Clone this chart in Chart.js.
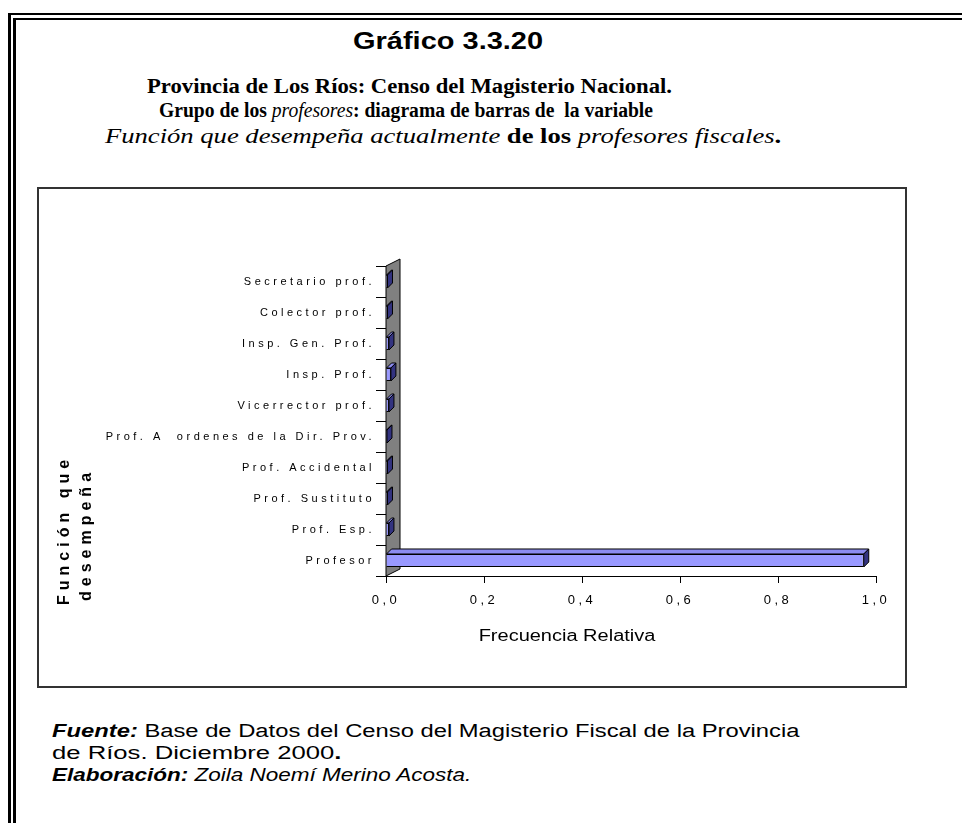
<!DOCTYPE html>
<html>
<head>
<meta charset="utf-8">
<script src="https://cdn.jsdelivr.net/npm/chart.js@4/dist/chart.umd.min.js"></script>
<style>
  html, body { margin:0; padding:0; background:#fff; width:962px; height:823px; overflow:hidden; }
  .frame1 { position:absolute; left:8px; top:13px; width:1200px; height:1200px; border-left:3px solid #000; border-top:2px solid #000; }
  .frame2 { position:absolute; left:13px; top:18px; width:1200px; height:1200px; border-left:3px solid #000; border-top:2px solid #000; }
  .t { position:absolute; white-space:pre; color:#000; line-height:1; transform-origin:0 0; }
  .ar { font-family:"Liberation Sans", Arial, sans-serif; }
  .tm { font-family:"Liberation Serif", "Times New Roman", serif; font-weight:bold; }
  .tm i { font-weight:normal; }
  .box { position:absolute; left:37px; top:187px; width:866px; height:497px; border:2px solid #333; background:#fff; }
  canvas { display:block; }
</style>
</head>
<body>
<div class="frame1"></div>
<div class="frame2"></div>

<div class="t ar" style="left:353px; top:30px; font-size:23px; font-weight:bold; transform:scaleX(1.26);">Gráfico 3.3.20</div>
<div class="t tm" style="left:147px; top:76px; font-size:20px; transform:scaleX(1.134);">Provincia de Los Ríos: Censo del Magisterio Nacional.</div>
<div class="t tm" style="left:159px; top:100px; font-size:20px; transform:scaleX(0.98);">Grupo de los <i>profesores</i>: diagrama de barras de  la variable</div>
<div class="t tm" style="left:105px; top:126px; font-size:20px; transform:scaleX(1.33);"><i>Función que desempeña actualmente</i> de los <i>profesores fiscales</i>.</div>

<div class="box"><canvas id="c" width="866" height="497"></canvas></div>

<div class="t ar" style="left:52px; top:722px; font-size:18px; transform:scaleX(1.32);"><b><i>Fuente:</i></b> Base de Datos del Censo del Magisterio Fiscal de la Provincia</div>
<div class="t ar" style="left:52px; top:744px; font-size:18px; transform:scaleX(1.425);">de Ríos. Diciembre 2000<b>.</b></div>
<div class="t ar" style="left:52px; top:766px; font-size:18px; transform:scaleX(1.25);"><b><i>Elaboración:</i></b><i> Zoila Noemí Merino Acosta.</i></div>

<script>
// ---- data ----
const categories = [
  'Secretario prof.',
  'Colector prof.',
  'Insp. Gen. Prof.',
  'Insp. Prof.',
  'Vicerrector prof.',
  'Prof. A  ordenes de la Dir. Prov.',
  'Prof. Accidental',
  'Prof. Sustituto',
  'Prof. Esp.',
  'Profesor'
];
const frecuenciaRelativa = [0.003, 0.003, 0.006, 0.010, 0.006, 0.002, 0.003, 0.003, 0.006, 0.975];
const xTickLabels = ['0,0', '0,2', '0,4', '0,6', '0,8', '1,0'];
const xTitle = 'Frecuencia Relativa';
const yTitle = ['Función que', 'desempeña'];

// ---- 3D look plugin ----
const threeD = {
  id: 'threeD',
  beforeDraw(chart) {
    chart.ctx.letterSpacing = '3.5px';
  },
  beforeDatasetsDraw(chart) {
    const { ctx, chartArea: a } = chart;
    const dx = 14, dy = -7;
    ctx.save();
    ctx.beginPath();
    ctx.moveTo(a.left, a.bottom);
    ctx.lineTo(a.left, a.top);
    ctx.lineTo(a.left + dx, a.top + dy);
    ctx.lineTo(a.left + dx, a.bottom + dy);
    ctx.closePath();
    ctx.fillStyle = '#808080';
    ctx.fill();
    ctx.lineWidth = 1;
    ctx.strokeStyle = '#000';
    ctx.stroke();
    ctx.restore();
  },
  afterDatasetsDraw(chart) {
    const { ctx } = chart;
    const meta = chart.getDatasetMeta(0);
    const dx = 5, dy = -5;
    ctx.save();
    ctx.lineWidth = 1;
    ctx.strokeStyle = '#000';
    meta.data.forEach(bar => {
      const p = bar.getProps(['x', 'y', 'base', 'height'], true);
      const top = p.y - p.height / 2, bottom = p.y + p.height / 2;
      ctx.beginPath();
      ctx.moveTo(p.base, top);
      ctx.lineTo(p.base + dx, top + dy);
      ctx.lineTo(p.x + dx, top + dy);
      ctx.lineTo(p.x, top);
      ctx.closePath();
      ctx.fillStyle = '#8c8cf0';
      ctx.fill(); ctx.stroke();
      ctx.beginPath();
      ctx.moveTo(p.x, top);
      ctx.lineTo(p.x + dx, top + dy);
      ctx.lineTo(p.x + dx, bottom + dy);
      ctx.lineTo(p.x, bottom);
      ctx.closePath();
      ctx.fillStyle = '#333380';
      ctx.fill(); ctx.stroke();
    });
    ctx.restore();
  },
  afterDraw(chart) {
    const { ctx } = chart;
    ctx.save();
    ctx.fillStyle = '#000';
    // x title
    ctx.letterSpacing = '0px';
    ctx.font = '16px "Liberation Sans", Arial, sans-serif';
    ctx.textAlign = 'center';
    ctx.textBaseline = 'middle';
    ctx.save();
    ctx.translate(528, 448);
    ctx.scale(1.25, 1);
    ctx.fillText(xTitle, 0, 0);
    ctx.restore();
    // y title
    ctx.letterSpacing = '5px';
    ctx.font = 'bold 16px "Liberation Sans", Arial, sans-serif';
    ctx.textAlign = 'left';
    ctx.textBaseline = 'alphabetic';
    ctx.save();
    ctx.translate(30, 416);
    ctx.rotate(-Math.PI / 2);
    ctx.fillText(yTitle[0], 0, 0);
    ctx.restore();
    ctx.save();
    ctx.translate(52, 412);
    ctx.rotate(-Math.PI / 2);
    ctx.fillText(yTitle[1], 0, 0);
    ctx.restore();
    ctx.restore();
    ctx.letterSpacing = '0px';
  }
};

new Chart(document.getElementById('c'), {
  type: 'bar',
  data: {
    labels: categories,
    datasets: [{
      data: frecuenciaRelativa,
      backgroundColor: '#9999ff',
      borderColor: '#000',
      borderWidth: 1,
      barPercentage: 0.42,
      categoryPercentage: 1
    }]
  },
  options: {
    indexAxis: 'y',
    responsive: false,
    animation: false,
    events: [],
    layout: { padding: { top: 77, right: 29, left: 0, bottom: 0 } },
    plugins: { legend: { display: false }, tooltip: { enabled: false }, title: { display: false } },
    scales: {
      x: {
        min: 0, max: 1,
        ticks: {
          stepSize: 0.2,
          color: '#000',
          font: { family: '"Liberation Sans", Arial, sans-serif', size: 13 },
          padding: 10,
          maxRotation: 0,
          callback: (v, i) => xTickLabels[i]
        },
        grid: { drawOnChartArea: false, drawTicks: true, tickLength: 7, color: '#000', lineWidth: 1 },
        border: { display: true, color: '#000', width: 1 },
        afterFit(s) { s.height = 110; }
      },
      y: {
        ticks: {
          color: '#000',
          font: { family: '"Liberation Sans", Arial, sans-serif', size: 11 },
          padding: 1,
          autoSkip: false
        },
        grid: { drawOnChartArea: false, drawTicks: true, tickLength: 10, color: '#000', lineWidth: 1, offset: true },
        border: { display: true, color: '#000', width: 1 },
        afterFit(s) { s.width = 347; }
      }
    }
  },
  plugins: [threeD]
});
</script>
</body>
</html>
